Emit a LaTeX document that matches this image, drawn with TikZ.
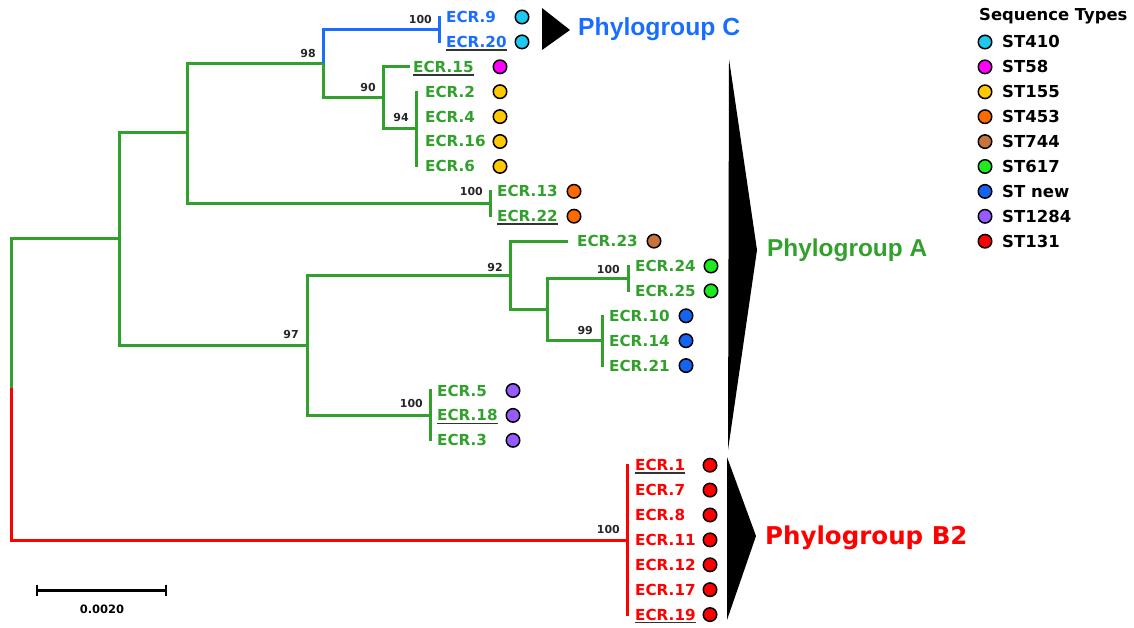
\documentclass[tikz,border=0pt]{standalone}
\usepackage{fontspec}
\newfontfamily\dvs{DejaVu Sans}
\newfontfamily\lis{Liberation Sans}
\definecolor{tgreen}{RGB}{50,160,45}
\definecolor{tblue}{RGB}{25,110,255}
\definecolor{tred}{RGB}{255,0,0}
\definecolor{c410}{RGB}{30,200,240}
\definecolor{c58}{RGB}{255,0,255}
\definecolor{c155}{RGB}{255,200,0}
\definecolor{c453}{RGB}{255,105,0}
\definecolor{c744}{RGB}{200,115,60}
\definecolor{c617}{RGB}{30,235,30}
\definecolor{cnew}{RGB}{20,100,240}
\definecolor{c1284}{RGB}{150,90,255}
\definecolor{c131}{RGB}{255,0,0}
\tikzset{
  br/.style={line width=3pt, line join=miter},
  leaflab/.style={inner sep=0pt, anchor=base west, font=\dvs\bfseries\fontsize{15.2}{18}\selectfont},
  boot/.style={inner sep=0pt, anchor=base east, text=black!85, font=\dvs\bfseries\fontsize{11}{13}\selectfont},
  dot/.style={circle, draw=black, line width=1.5pt, minimum size=13.5pt, inner sep=0pt},
  uline/.style={line width=1.5pt, draw=black!80},
  bar/.style={br, shorten <=-1pt, shorten >=-1pt},
  legtxt/.style={inner sep=0pt, anchor=base west, font=\dvs\bfseries\fontsize{16.5}{19}\selectfont},
}
\newcommand\mkleaf[6]{% name, x, y, textcolor, dotx, dotcolor
  \node[leaflab, text=#4] (L#1) at (#2,#3+5.5) {ECR.#1};
  \node[dot, fill=#6] (D#1) at (#5,#3) {};
}
\newcommand\mkul[1]{\draw[uline] ([yshift=-2.5pt]L#1.base west) -- ([yshift=-2.5pt]L#1.base east);}
\begin{document}
\begin{tikzpicture}[x=1pt,y=-1pt]
\useasboundingbox (0,0) rectangle (1134,628);
% leaves
\mkleaf{9}{446}{17}{tblue}{522}{c410}
\mkleaf{20}{446}{41.9}{tblue}{522}{c410}
\mkleaf{15}{413}{66.8}{tgreen}{500}{c58}
\mkleaf{2}{425}{91.7}{tgreen}{500}{c155}
\mkleaf{4}{425}{116.6}{tgreen}{500}{c155}
\mkleaf{16}{425}{141.5}{tgreen}{500}{c155}
\mkleaf{6}{425}{166.4}{tgreen}{500}{c155}
\mkleaf{13}{497}{191.3}{tgreen}{574}{c453}
\mkleaf{22}{497}{216.2}{tgreen}{574}{c453}
\mkleaf{23}{577}{241.1}{tgreen}{654}{c744}
\mkleaf{24}{635}{266}{tgreen}{711}{c617}
\mkleaf{25}{635}{290.9}{tgreen}{711}{c617}
\mkleaf{10}{609}{315.8}{tgreen}{686}{cnew}
\mkleaf{14}{609}{340.7}{tgreen}{686}{cnew}
\mkleaf{21}{609}{365.6}{tgreen}{686}{cnew}
\mkleaf{5}{437}{390.5}{tgreen}{513}{c1284}
\mkleaf{18}{437}{415.4}{tgreen}{513}{c1284}
\mkleaf{3}{437}{440.3}{tgreen}{513}{c1284}
\mkleaf{1}{635}{465.2}{tred}{710}{c131}
\mkleaf{7}{635}{490.1}{tred}{710}{c131}
\mkleaf{8}{635}{515}{tred}{710}{c131}
\mkleaf{11}{635}{539.9}{tred}{710}{c131}
\mkleaf{12}{635}{564.8}{tred}{710}{c131}
\mkleaf{17}{635}{589.7}{tred}{710}{c131}
\mkleaf{19}{635}{614.6}{tred}{710}{c131}
\mkul{20}\mkul{15}\mkul{22}\mkul{18}\mkul{1}\mkul{19}
% internal nodes
\coordinate (rA) at (11,239);
\coordinate (rS) at (11,388);
\coordinate (rB) at (11,540);
\coordinate (n1) at (119,239);
\coordinate (n2) at (187,133);
\coordinate (n97) at (307,345);
\coordinate (n98) at (323,63.5);
\coordinate (n13) at (490,203.7);
\coordinate (n9) at (439,29.5);
\coordinate (n90) at (383,98);
\coordinate (n94) at (416,129);
\coordinate (n92) at (510,275);
\coordinate (n5) at (430,415.4);
\coordinate (n547) at (547,309.5);
\coordinate (n24) at (628,278.5);
\coordinate (n99) at (602,340.7);
\coordinate (nB) at (627,540);
% branches
\draw[br,tgreen] (rS) -- (rA) -- (n1);
\draw[br,tgreen] (n2) -| (n1) |- (n97);
\draw[br,tgreen] (n98) -| (n2) |- (n13);
\draw[br,tblue] (n98) |- (n9);
\draw[br,tgreen] (n98) |- (n90);
\draw[br,tgreen,shorten <=3pt] (L15.west) -| (n90) |- (n94);
\draw[br,tgreen,shorten <=9pt] (L23.west) -| (n92) |- (n547);
\draw[br,tgreen] (n92) -| (n97) |- (n5);
\draw[br,tgreen] (n24) -| (n547) |- (n99);
\draw[br,tred] (rS) -- (rB) -- (nB);
\draw[bar,tblue] (n9 |- L9.west) -- (n9 |- L20.west);
\draw[bar,tgreen] (n94 |- L2.west) -- (n94 |- L6.west);
\draw[bar,tgreen] (n13 |- L13.west) -- (n13 |- L22.west);
\draw[bar,tgreen] (n24 |- L24.west) -- (n24 |- L25.west);
\draw[bar,tgreen] (n99 |- L10.west) -- (n99 |- L21.west);
\draw[bar,tgreen] (n5 |- L5.west) -- (n5 |- L3.west);
\draw[bar,tred] (nB |- L1.west) -- (nB |- L19.west);
% bootstrap values
\node[boot] (b98) at (316,58) {98};
\node[boot] (b9) at (432,24) {100};
\node[boot] (b90) at (376,92) {90};
\node[boot] (b94) at (409,122) {94};
\node[boot] (b13) at (483,196) {100};
\node[boot] (b92) at (503,271) {92};
\node[boot] (b24) at (620,273) {100};
\node[boot] (b99) at (593,334) {99};
\node[boot] (b97) at (299,338) {97};
\node[boot] (b5) at (423,407) {100};
\node[boot] (bB) at (620,533) {100};
% phylogroup triangles and labels
\fill[black] (542,8) -- (570,30) -- (542,50) -- cycle;
\fill[black] (729,59) -- (757,250) -- (728,450) -- cycle;
\fill[black] (727,457) -- (756,536) -- (727,620) -- cycle;
\node[inner sep=0pt, anchor=base west, text=tblue, font=\lis\bfseries\fontsize{24.7}{28}\selectfont] (pC) at (578,35.5) {Phylogroup C};
\node[inner sep=0pt, anchor=base west, text=tgreen, font=\lis\bfseries\fontsize{24.4}{28}\selectfont] (pA) at (767,257) {Phylogroup A};
\node[inner sep=0pt, anchor=base west, text=tred, font=\dvs\bfseries\fontsize{24.5}{28}\selectfont] (pB) at (765,544) {Phylogroup B2};
% legend
\node[inner sep=0pt, anchor=base west, font=\dvs\bfseries\fontsize{16.4}{19}\selectfont] (lhead) at (979,21) {Sequence Types};
\foreach \c/\t [count=\i from 0] in {c410/ST410, c58/ST58, c155/ST155, c453/ST453, c744/ST744, c617/ST617, cnew/ST new, c1284/ST1284, c131/ST131}{
  \node[dot, fill=\c] (ld\i) at (985,42+24.9*\i) {};
  \node[legtxt] (lt\i) at (1002,42+24.9*\i+6) {\t};
}
% scale bar
\coordinate (sbL) at (37,590);
\coordinate (sbR) at (166,590);
\draw[line width=3pt] (sbL) -- (sbR);
\draw[line width=2.5pt] ([yshift=5.5pt]sbL) -- ([yshift=-5.5pt]sbL);
\draw[line width=2.5pt] ([yshift=5.5pt]sbR) -- ([yshift=-5.5pt]sbR);
\node[inner sep=0pt, anchor=base, font=\dvs\bfseries\fontsize{11.5}{14}\selectfont] (sbt) at (102,613) {0.0020};
\end{tikzpicture}
\end{document}
